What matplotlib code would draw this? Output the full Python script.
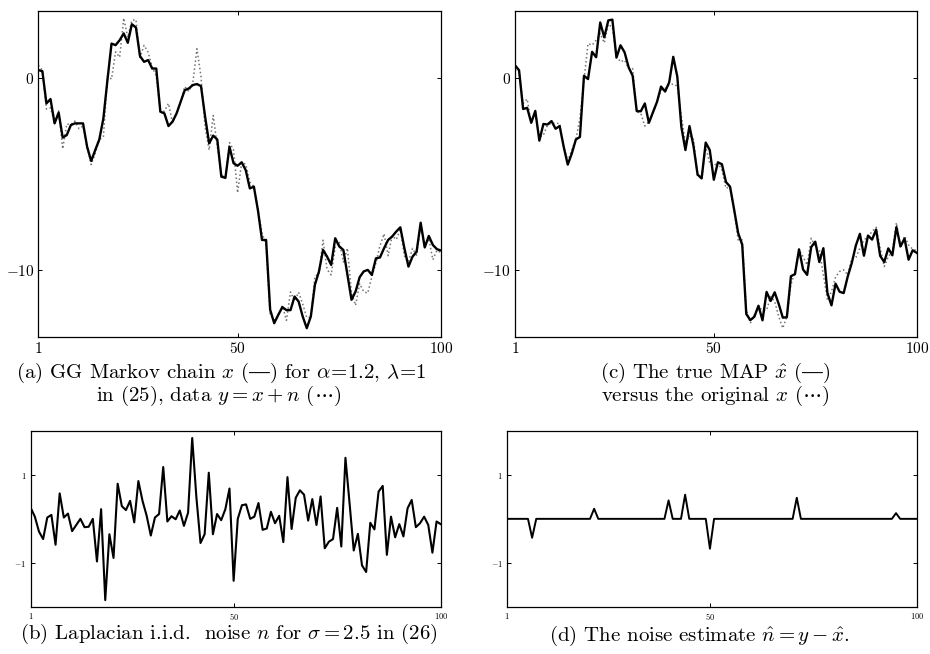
import numpy as np
import matplotlib
matplotlib.use("Agg")
import matplotlib.pyplot as plt

plt.rcParams['mathtext.fontset'] = 'cm'
plt.rcParams['font.family'] = ['cmr10', 'DejaVu Serif']
plt.rcParams['axes.unicode_minus'] = False

# ---- data ----
t = list(range(1, 101))

x_chain = [0.42, 0.36, -1.32, -1.09, -2.36, -1.80, -3.10, -2.97, -2.45, -2.36,
           -2.36, -2.36, -3.58, -4.32, -3.75, -3.20, -2.10, -0.10, 1.80, 1.72,
           1.98, 2.33, 1.84, 2.81, 2.64, 1.15, 0.85, 0.94, 0.50, 0.50,
           -1.75, -1.84, -2.50, -2.27, -1.84, -1.23, -0.63, -0.54, -0.36, -0.31,
           -0.42, -2.00, -3.40, -3.00, -3.20, -5.14, -5.20, -3.58, -4.44, -4.57,
           -4.39, -4.80, -5.75, -5.66, -6.90, -8.44, -8.44, -12.08, -12.78, -12.34,
           -11.94, -12.10, -12.10, -11.39, -11.65, -12.43, -13.04, -12.43, -10.78, -10.08,
           -8.96, -9.31, -9.74, -8.35, -8.78, -8.96, -10.26, -11.56, -11.13, -10.38,
           -10.08, -10.00, -10.26, -9.40, -9.35, -8.87, -8.44, -8.26, -8.00, -7.78,
           -8.87, -9.83, -9.31, -9.05, -7.54, -8.83, -8.23, -8.70, -8.92, -8.99]

noise = [0.25, 0.05, -0.29, -0.46, 0.03, 0.09, -0.59, 0.58, 0.03, 0.12,
         -0.28, -0.14, 0.00, -0.19, -0.18, 0.00, -0.97, 0.22, -1.85, -0.35,
         -0.89, 0.80, 0.29, 0.20, 0.41, -0.08, 0.86, 0.41, 0.07, -0.38,
         0.03, 0.11, 1.18, -0.06, 0.06, -0.01, 0.19, -0.16, 0.14, 1.84,
         0.50, -0.55, -0.35, 1.05, -0.35, 0.11, -0.03, 0.22, 0.69, -1.41,
         0.00, 0.31, 0.33, 0.00, 0.05, 0.36, -0.25, -0.22, 0.16, -0.10,
         0.07, -0.53, 0.95, -0.23, 0.48, 0.65, 0.55, -0.04, 0.45, -0.14,
         0.51, -0.67, -0.52, -0.46, 0.25, -0.63, 1.39, 0.35, -0.72, -0.34,
         -1.06, -1.21, -0.09, -0.24, 0.62, 0.75, -0.82, 0.05, -0.42, -0.12,
         -0.40, 0.24, 0.43, -0.19, -0.10, 0.05, -0.14, -0.77, -0.06, -0.12]

nhat_idx = [7, 22, 40, 44, 50, 71, 95]
nhat_val = [-0.43, 0.23, 0.42, 0.55, -0.68, 0.48, 0.13]

x_chain = np.array(x_chain)
noise = np.array(noise)
nhat = np.zeros(100)
for i, v in zip(nhat_idx, nhat_val):
    nhat[i - 1] = v
y_data = x_chain + noise          # y = x + n
x_map = y_data - nhat             # n_hat = y - x_hat

xticks = [1, 50, 100]
big_yticks = [-10, 0]
small_yticks = [-1, 1]

W, H = 930, 654
fig = plt.figure(figsize=(W / 100, H / 100), dpi=100)

def ax_px(l, r, top, bot):
    return fig.add_axes([l / W, 1 - bot / H, (r - l) / W, (bot - top) / H])

def style(ax, yt, ylim, fs):
    ax.set_xlim(1, 100)
    ax.set_ylim(*ylim)
    ax.set_xticks(xticks)
    ax.set_xticklabels([f"${v}$" for v in xticks], fontsize=fs)
    ax.set_yticks(yt)
    ax.set_yticklabels([f"${v}$" for v in yt], fontsize=fs)
    ax.tick_params(direction='in', length=3, width=0.7, top=True, right=True, pad=3)
    for s in ax.spines.values():
        s.set_linewidth(0.9)

# (a)
axa = ax_px(38.3, 441, 11, 337)
axa.plot(t, y_data, linestyle=':', color='0.45', lw=1.1)
axa.plot(t, x_chain, color='black', lw=1.7)
style(axa, big_yticks, (-13.5, 3.5), 11)

# (c)
axc = ax_px(515, 916.7, 11, 337)
axc.plot(t, x_chain, linestyle=':', color='0.45', lw=1.1)
axc.plot(t, x_map, color='black', lw=1.7)
style(axc, big_yticks, (-13.5, 3.5), 11)

# (b)
axb = ax_px(30.7, 440.7, 431, 606.7)
axb.plot(t, noise, color='black', lw=1.5)
style(axb, small_yticks, (-2, 2), 6)

# (d)
axd = ax_px(507.3, 916.7, 431, 606.7)
axd.plot(t, nhat, color='black', lw=1.4)
style(axd, small_yticks, (-2, 2), 6)

dash = "$\u2014$"
fs_cap = 15
fig.text(221 / W, 1 - 373 / H, "(a) GG Markov chain $x$ (" + dash + r") for $\alpha\!=\!1.2$, $\lambda\!=\!1$",
         ha='center', va='center', fontsize=fs_cap)
fig.text(219 / W, 1 - 396 / H, r"in (25), data $y = x + n$ ($\cdots$)",
         ha='center', va='center', fontsize=fs_cap)
fig.text(715 / W, 1 - 373 / H, r"(c) The true MAP $\hat{x}$ (" + dash + ")",
         ha='center', va='center', fontsize=fs_cap)
fig.text(715 / W, 1 - 396 / H, r"versus the original $x$ ($\cdots$)",
         ha='center', va='center', fontsize=fs_cap)
fig.text(229 / W, 1 - 634 / H, r"(b) Laplacian i.i.d.  noise $n$ for $\sigma = 2.5$ in (26)",
         ha='center', va='center', fontsize=fs_cap)
fig.text(699 / W, 1 - 636 / H, r"(d) The noise estimate $\hat{n} = y - \hat{x}$.",
         ha='center', va='center', fontsize=fs_cap)

fig.savefig("out.png", dpi=100)
